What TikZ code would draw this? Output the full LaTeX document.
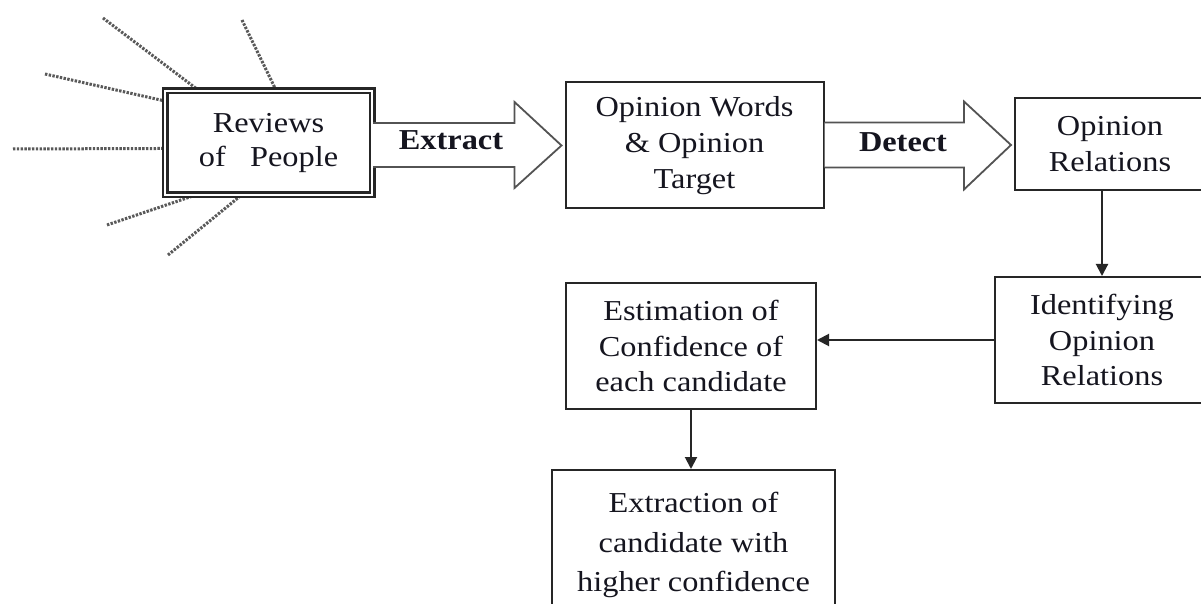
\documentclass[tikz,border=0pt]{standalone}
\usepackage{fontspec}
\setmainfont{Liberation Serif}[FakeStretch=1.12]
\usetikzlibrary{calc,arrows.meta}
\definecolor{ink}{HTML}{15151F}
\definecolor{frame}{HTML}{262626}
\begin{document}
\begin{tikzpicture}[x=1bp,y=-1bp,
  box/.style={draw=frame, line width=2bp, fill=white, text=ink, align=center, inner sep=0pt, font=\fontsize{29}{36}\selectfont},
  bigarrow/.style={draw=gray!65!black, line width=1.8bp, fill=white, line join=miter},
  conn/.style={draw=frame, line width=2bp, -{Triangle[length=12bp,width=12bp]}},
  ray/.style={draw=gray!70!black, line width=3bp, dash pattern=on 2.4bp off 1.4bp},
  lbl/.style={text=ink, font=\fontsize{29}{36}\selectfont\bfseries, inner sep=0pt}]
\clip (0,0) rectangle (1201,604);
\fill[white] (0,0) rectangle (1201,604);

% boxes
\node[box, draw=none, fill=none, minimum width=207bp, minimum height=104bp] (reviews) at (268.5,143) {};
\node[box, minimum width=258bp, minimum height=126bp] (words) at (694.5,145.5) {Opinion Words\\\& Opinion\\Target};
\node[box, minimum width=190bp, minimum height=92bp] (rel) at (1110,144) {Opinion\\Relations};
\node[box, minimum width=214bp, minimum height=126bp] (ident) at (1102,340) {Identifying\\Opinion\\Relations};
\node[box, minimum width=250bp, minimum height=126bp] (est) at (691,346) {Estimation of\\Confidence of\\each candidate};
\node[box, minimum width=283bp, minimum height=150bp, font=\fontsize{29}{40}\selectfont] (extr) at (693.5,545) {Extraction of\\candidate with\\higher confidence};

% rays
\coordinate (r1) at (103,18);
\coordinate (r2) at (242,20);
\coordinate (r3) at (45,74);
\coordinate (r4) at (13,149);
\coordinate (r5) at (107,225);
\coordinate (r6) at (168,255);
\draw[ray] (r1) -- (reviews.143);
\draw[ray] (r2) -- (reviews.82);
\draw[ray] (r3) -- (reviews.158);
\draw[ray] (r4) -- (reviews.183);
\draw[ray] (r5) -- (reviews.215);
\draw[ray] (r6) -- (reviews.242);

% reviews box (double frame)
\node[box, double=white, double distance=2.6bp, line width=2.2bp, minimum width=207bp, minimum height=104bp, font=\fontsize{29}{35}\selectfont] (reviewsbox) at (268.5,143) {Reviews\\of\ \ \ People};

% block arrows
\draw[bigarrow] ($(reviewsbox.east |- words.west)+(0,-22.5)$) -- ($(words.west)+(-50,-22.5)$) -- ($(words.west)+(-50,-43.5)$) -- ($(words.west)+(-3,0)$) -- ($(words.west)+(-50,42.5)$) -- ($(words.west)+(-50,21.5)$) -- ($(reviewsbox.east |- words.west)+(0,21.5)$);
\draw[bigarrow] ($(words.east |- rel.west)+(0,-21.5)$) -- ($(rel.west)+(-50,-21.5)$) -- ($(rel.west)+(-50,-42.5)$) -- ($(rel.west)+(-3,1)$) -- ($(rel.west)+(-50,45.5)$) -- ($(rel.west)+(-50,23.5)$) -- ($(words.east |- rel.west)+(0,23.5)$);
\node[lbl, anchor=base] (extract) at (451,150) {Extract};
\node[lbl, anchor=base] (detect) at (903,152) {Detect};

% connectors
\draw[conn] (ident.north |- rel.south) -- (ident.north);
\draw[conn] (ident.west) -- (ident.west -| est.east);
\draw[conn] (est.south) -- (est.south |- extr.north);
\end{tikzpicture}
\end{document}
